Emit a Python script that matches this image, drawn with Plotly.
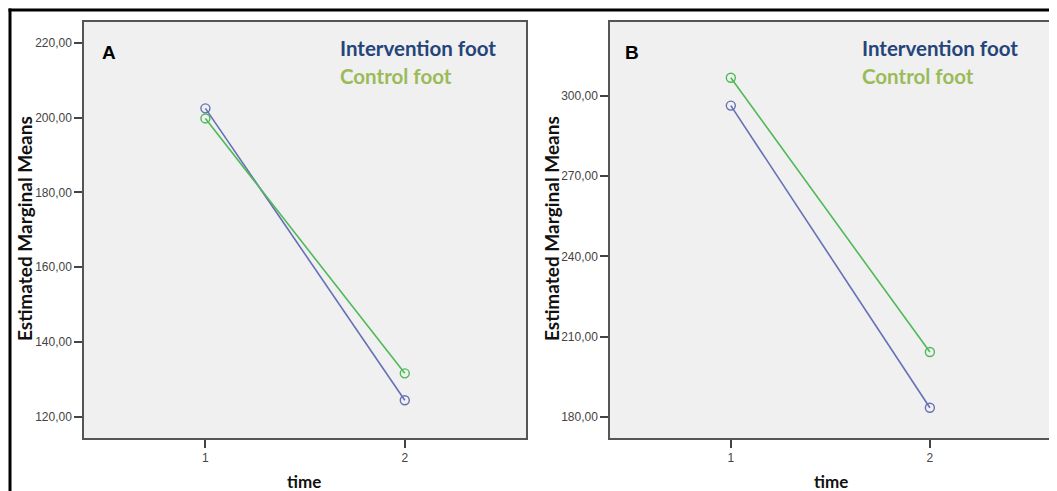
import plotly.graph_objects as go

# page body has an 8px margin; lay the figure out in page pixels and compensate
OFF = 8
W, H = 1057 - OFF, 491 - OFF

time_points = [1, 2]
a_intervention = [202.5, 124.4]
a_control = [199.8, 131.6]
b_intervention = [296.3, 183.5]
b_control = [306.7, 204.3]

a_tickvals = [120, 140, 160, 180, 200, 220]
a_ticktext = ["120,00", "140,00", "160,00", "180,00", "200,00", "220,00"]
b_tickvals = [180, 210, 240, 270, 300]
b_ticktext = ["180,00", "210,00", "240,00", "270,00", "300,00"]

series_names = ["Intervention foot", "Control foot"]
line_colors = ["#6570b6", "#4fb957"]
text_colors = ["#24447a", "#9bbb59"]

def px(x):
    return (x - OFF) / W

def py(y):
    return 1 - (y - OFF) / H

fig = go.Figure()

for xa, ya, vals in [("x", "y", [a_intervention, a_control]), ("x2", "y2", [b_intervention, b_control])]:
    for name, v, c in zip(series_names, vals, line_colors):
        fig.add_trace(go.Scatter(
            x=time_points, y=v, xaxis=xa, yaxis=ya, name=name, mode="lines+markers",
            line=dict(color=c, width=1.6),
            marker=dict(symbol="circle-open", size=9, color=c, line=dict(width=1.4, color=c)),
            showlegend=False,
        ))

axis_common = dict(
    showgrid=False, zeroline=False, showline=True, mirror=True,
    linecolor="#555555", linewidth=1.5, ticks="outside", ticklen=8, tickwidth=1.5,
    tickcolor="#444444", tickfont=dict(family="Liberation Sans, Arial", size=12, color="#444444"),
    automargin=False,
)

fig.update_layout(
    width=W, height=H,
    margin=dict(l=0, r=0, t=0, b=0),
    paper_bgcolor="white",
    plot_bgcolor="#f0f0f0",
    xaxis=dict(domain=[px(84), px(526)], range=[0.391, 2.608], anchor="y",
               tickvals=time_points, ticktext=["1", "2"], **axis_common),
    yaxis=dict(domain=[py(438), py(22)], range=[114.3, 225.6], anchor="x",
               tickvals=a_tickvals, ticktext=a_ticktext, **axis_common),
    xaxis2=dict(domain=[px(610), px(1051.5)], range=[0.393, 2.611], anchor="y2",
                tickvals=time_points, ticktext=["1", "2"], **axis_common),
    yaxis2=dict(domain=[py(438), py(22)], range=[172.2, 327.5], anchor="x2",
                tickvals=b_tickvals, ticktext=b_ticktext, **axis_common),
    showlegend=False,
)

annotations = []
for x0, letter in [(0, "A"), (527, "B")]:
    annotations.append(dict(
        x=px(x0 + 25), y=py(229), xref="paper", yref="paper", text="<b>Estimated Marginal Means</b>",
        textangle=-90, showarrow=False, font=dict(family="Lato, Open Sans", size=19, color="#111111"),
        xanchor="center", yanchor="middle"))
    annotations.append(dict(
        x=px(x0 + 304), y=py(481), xref="paper", yref="paper", text="<b>time</b>",
        showarrow=False, font=dict(family="Lato, Open Sans", size=17, color="#111111"),
        xanchor="center", yanchor="middle"))
    lx = 109 if letter == "A" else 632
    annotations.append(dict(
        x=px(lx), y=py(52), xref="paper", yref="paper", text="<b>" + letter + "</b>",
        showarrow=False, font=dict(family="Liberation Sans, Arial", size=19, color="#000000"),
        xanchor="center", yanchor="middle"))
    tx = 338 if letter == "A" else 860
    for name, c, yy in zip(series_names, text_colors, [48, 76]):
        annotations.append(dict(
            x=px(tx), y=py(yy), xref="paper", yref="paper", text="<b>" + name + "</b>",
            showarrow=False, font=dict(family="Lato, Open Sans", size=20.5, color=c),
            xanchor="left", yanchor="middle"))

fig.update_layout(annotations=annotations)

fig.update_layout(shapes=[
    dict(type="line", xref="paper", yref="paper", x0=px(8.5), x1=1, y0=py(10), y1=py(10),
         line=dict(color="black", width=3)),
    dict(type="line", xref="paper", yref="paper", x0=px(10), x1=px(10), y0=py(8.5), y1=0,
         line=dict(color="black", width=3)),
])

fig.write_html("out.html")
